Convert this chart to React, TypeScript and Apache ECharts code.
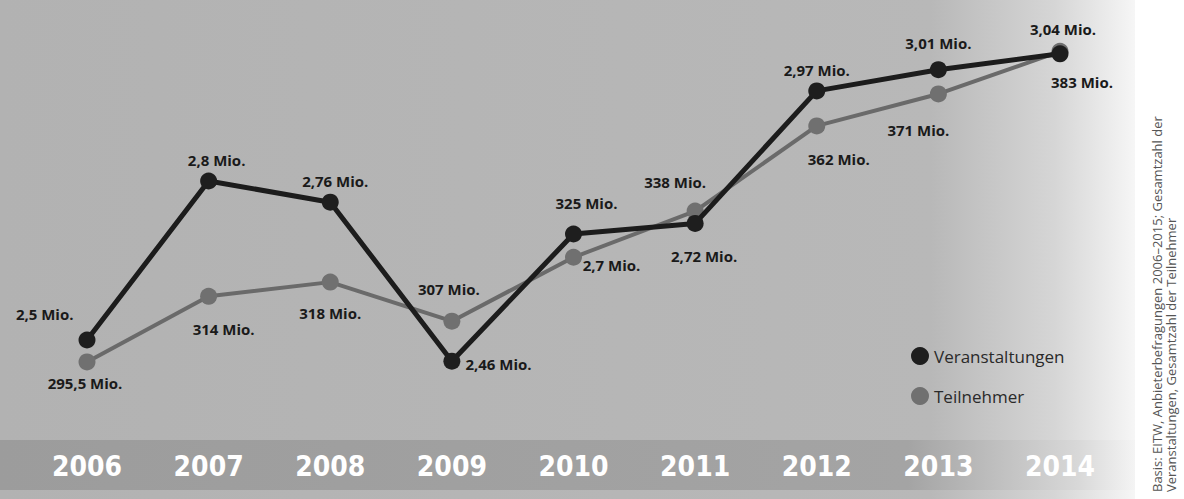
import React, { useEffect, useRef } from "react";
import * as echarts from "echarts";

const years = ["2006", "2007", "2008", "2009", "2010", "2011", "2012", "2013", "2014"];
const veranstaltungen = [2.5, 2.8, 2.76, 2.46, 2.7, 2.72, 2.97, 3.01, 3.04];
const teilnehmer = [295.5, 314, 318, 307, 325, 338, 362, 371, 383];
const seriesNames = ["Veranstaltungen", "Teilnehmer"];
const sourceLines = [
  "Basis: EITW, Anbieterbefragungen 2006–2015; Gesamtzahl der",
  "Veranstaltungen, Gesamtzahl der Teilnehmer",
];

const vLabelPlace: [string, number, number][] = [
  ["left", 0, -26],
  ["top", 8, 0],
  ["top", 5, 0],
  ["right", 0, 3],
  ["bottom", 38, 10],
  ["bottom", 9, 12],
  ["top", 0, 0],
  ["top", 0, -6],
  ["top", 3, -4],
];
const tLabelPlace: [string, number, number][] = [
  ["bottom", -2, 0],
  ["bottom", 15, 12],
  ["bottom", 0, 10],
  ["top", -3, -11],
  ["top", 13, -33],
  ["top", -20, -8],
  ["bottom", 22, 12],
  ["bottom", -20, 15],
  ["bottom", 22, 10],
];

const fmt = (p: any) => String(p.value).replace(".", ",") + " Mio.";

export default function App() {
  const ref = useRef<HTMLDivElement>(null);
  useEffect(() => {
    if (!ref.current) return;
    const chart = echarts.init(ref.current, null, { renderer: "svg" });
    const labelStyle = {
      show: true,
      formatter: fmt,
      color: "#1a1a1a",
      fontFamily: "Open Sans",
      fontWeight: "bold" as const,
      fontSize: 15,
      distance: 5,
    };
    chart.setOption({
      animation: false,
      backgroundColor: "#ffffff",
      graphic: [
        {
          type: "rect",
          z: -10,
          silent: true,
          shape: { x: 0, y: 0, width: 1135, height: 499 },
          style: {
            fill: new echarts.graphic.LinearGradient(0, 0, 1, 0, [
              { offset: 0, color: "#b2b2b2" },
              { offset: 0.82, color: "#b8b8b8" },
              { offset: 0.93, color: "#d6d6d6" },
              { offset: 1, color: "#f6f6f6" },
            ]),
          },
        },
        {
          type: "rect",
          z: -9,
          silent: true,
          shape: { x: 0, y: 440, width: 1135, height: 50 },
          style: {
            fill: new echarts.graphic.LinearGradient(0, 0, 1, 0, [
              { offset: 0, color: "#9c9c9c" },
              { offset: 0.8, color: "#a4a4a4" },
              { offset: 0.95, color: "#d8d8d8" },
              { offset: 1, color: "#f4f4f4" },
            ]),
          },
        },
        ...sourceLines.map((t, i) => ({
          type: "text",
          x: 1157 + i * 14,
          y: 492,
          rotation: Math.PI / 2,
          silent: true,
          style: {
            text: t,
            fill: "#555555",
            fontSize: 13,
            fontFamily: "Open Sans",
            textAlign: "left",
            textVerticalAlign: "middle",
          },
        })),
      ],
      grid: { left: 87, right: 124, top: 17, bottom: 92 },
      legend: {
        data: seriesNames,
        orient: "vertical",
        left: 906,
        top: 342,
        icon: "circle",
        itemWidth: 18,
        itemHeight: 18,
        itemGap: 22,
        textStyle: { fontSize: 17, color: "#2a2a2a", fontFamily: "Open Sans" },
      },
      xAxis: {
        type: "category",
        data: years,
        boundaryGap: false,
        axisLine: { show: false },
        axisTick: { show: false },
        splitLine: { show: false },
        axisLabel: {
          margin: 45,
          color: "#ffffff",
          fontSize: 28,
          fontWeight: "bold",
          fontFamily: "Liberation Sans Narrow, DejaVu Sans Condensed, Open Sans",
        },
      },
      yAxis: [
        { type: "value", min: 2.3736, max: 3.1094, show: false, splitLine: { show: false } },
        { type: "value", min: 282.82, max: 392.68, show: false, splitLine: { show: false } },
      ],
      series: [
        {
          name: seriesNames[1],
          type: "line",
          yAxisIndex: 1,
          z: 2,
          symbol: "circle",
          symbolSize: 17,
          lineStyle: { color: "#6a6a6a", width: 4 },
          itemStyle: { color: "#707070" },
          label: labelStyle,
          data: teilnehmer.map((v, i) => ({
            value: v,
            label: { position: tLabelPlace[i][0], offset: [tLabelPlace[i][1], tLabelPlace[i][2]] },
          })),
        },
        {
          name: seriesNames[0],
          type: "line",
          yAxisIndex: 0,
          z: 3,
          symbol: "circle",
          symbolSize: 17,
          lineStyle: { color: "#1c1c1c", width: 5 },
          itemStyle: { color: "#1e1e1e" },
          label: labelStyle,
          data: veranstaltungen.map((v, i) => ({
            value: v,
            label: { position: vLabelPlace[i][0], offset: [vLabelPlace[i][1], vLabelPlace[i][2]] },
          })),
        },
      ],
    });
    return () => chart.dispose();
  }, []);
  return (
    <div
      ref={ref}
      style={{ position: "absolute", left: 0, top: 0, width: 1184, height: 499 }}
    />
  );
}
